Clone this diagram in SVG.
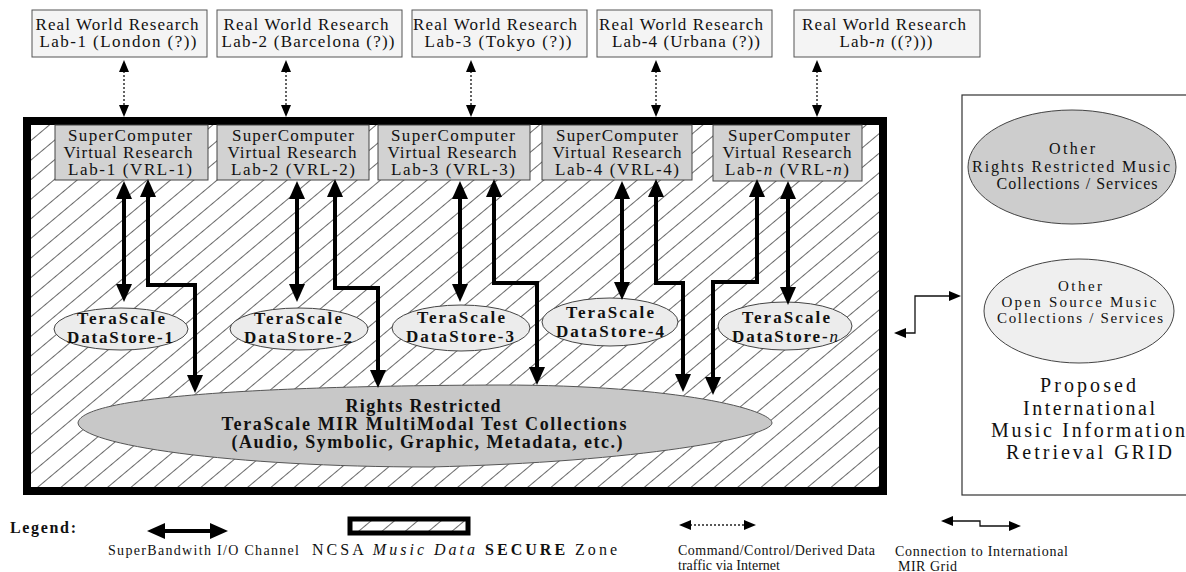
<svg xmlns="http://www.w3.org/2000/svg" width="1186" height="572" viewBox="0 0 1186 572">
<style>
text{font-family:"Liberation Serif","DejaVu Serif",serif;fill:#111;text-anchor:middle}
.rw{font-size:17px}
.vrl{font-size:17px}
.ds{font-size:17px;font-weight:bold}
.big{font-size:18px;font-weight:bold}
.oth{font-size:16px}
.oth2{font-size:15px}
.prop{font-size:20px}
.leg{font-size:14px;text-anchor:start}
.rwbox{fill:#f4f4f4;stroke:#555;stroke-width:1}
.vrlbox{fill:#d2d2d2;stroke:#444;stroke-width:1}
.dsell{fill:#ececec;stroke:#444;stroke-width:1}
.thick{fill:none;stroke:#000;stroke-width:4;marker-start:url(#bh);marker-end:url(#bh)}
.dot{fill:none;stroke:#222;stroke-width:1.4;stroke-dasharray:2 2;marker-start:url(#sh);marker-end:url(#sh)}
.thin{fill:none;stroke:#111;stroke-width:1.3;marker-start:url(#sh);marker-end:url(#sh)}
</style>
<defs>
<pattern id="hatch" patternUnits="userSpaceOnUse" width="40" height="15" patternTransform="rotate(-40)">
<rect width="40" height="15" fill="#fff"/>
<line x1="0" y1="7.5" x2="40" y2="7.5" stroke="#444" stroke-width="0.8"/>
</pattern>
<marker id="bh" viewBox="0 0 18 16" refX="1" refY="8" markerWidth="18" markerHeight="16" markerUnits="userSpaceOnUse" orient="auto-start-reverse">
<path d="M0,0 L18,8 L0,16 Z" fill="#000"/>
</marker>
<marker id="sh" viewBox="0 0 12 10" refX="1" refY="5" markerWidth="12" markerHeight="10" markerUnits="userSpaceOnUse" orient="auto-start-reverse">
<path d="M0,0 L12,5 L0,10 Z" fill="#000"/>
</marker>
</defs>
<rect width="1186" height="572" fill="#fff"/>

<g id="secure-zone">
<rect x="27" y="121" width="856" height="370" fill="url(#hatch)" stroke="#000" stroke-width="8"/>
</g>

<g id="rw1"><rect class="rwbox" x="32" y="10" width="175" height="47"/>
<text class="rw" x="117" y="30" textLength="163" lengthAdjust="spacing">Real World Research</text>
<text class="rw" x="118" y="47" textLength="157" lengthAdjust="spacing">Lab-1  (London (?))</text></g>
<g id="rw2"><rect class="rwbox" x="217" y="10" width="185" height="47"/>
<text class="rw" x="306" y="30" textLength="165" lengthAdjust="spacing">Real World Research</text>
<text class="rw" x="308" y="47" textLength="173" lengthAdjust="spacing">Lab-2  (Barcelona (?))</text></g>
<g id="rw3"><rect class="rwbox" x="412" y="10" width="175" height="47"/>
<text class="rw" x="495" y="30" textLength="164" lengthAdjust="spacing">Real World Research</text>
<text class="rw" x="498" y="47" textLength="147" lengthAdjust="spacing">Lab-3  (Tokyo (?))</text></g>
<g id="rw4"><rect class="rwbox" x="597" y="10" width="175" height="47"/>
<text class="rw" x="681" y="30" textLength="164" lengthAdjust="spacing">Real World Research</text>
<text class="rw" x="686" y="47" textLength="148" lengthAdjust="spacing">Lab-4  (Urbana (?))</text></g>
<g id="rwn"><rect class="rwbox" x="794" y="10" width="186" height="47"/>
<text class="rw" x="884" y="30" textLength="164" lengthAdjust="spacing">Real World Research</text>
<text class="rw" x="886" y="47" textLength="93" lengthAdjust="spacing">Lab-<tspan font-style="italic">n</tspan> ((?)))</text></g>

<g id="vrl1"><rect class="vrlbox" x="55" y="125" width="153" height="55"/>
<text class="vrl" x="130" y="141" textLength="124" lengthAdjust="spacing">SuperComputer</text>
<text class="vrl" x="128" y="158" textLength="129" lengthAdjust="spacing">Virtual Research</text>
<text class="vrl" x="130" y="175" textLength="124" lengthAdjust="spacing">Lab-1  (VRL-1)</text></g>
<g id="vrl2"><rect class="vrlbox" x="217" y="125" width="152" height="55"/>
<text class="vrl" x="293" y="141" textLength="122" lengthAdjust="spacing">SuperComputer</text>
<text class="vrl" x="292" y="158" textLength="129" lengthAdjust="spacing">Virtual Research</text>
<text class="vrl" x="293" y="175" textLength="124" lengthAdjust="spacing">Lab-2  (VRL-2)</text></g>
<g id="vrl3"><rect class="vrlbox" x="378" y="125" width="152" height="55"/>
<text class="vrl" x="453" y="141" textLength="124" lengthAdjust="spacing">SuperComputer</text>
<text class="vrl" x="452" y="158" textLength="129" lengthAdjust="spacing">Virtual Research</text>
<text class="vrl" x="453" y="175" textLength="124" lengthAdjust="spacing">Lab-3  (VRL-3)</text></g>
<g id="vrl4"><rect class="vrlbox" x="542" y="125" width="150" height="55"/>
<text class="vrl" x="617" y="141" textLength="122" lengthAdjust="spacing">SuperComputer</text>
<text class="vrl" x="617" y="158" textLength="129" lengthAdjust="spacing">Virtual Research</text>
<text class="vrl" x="617" y="175" textLength="124" lengthAdjust="spacing">Lab-4  (VRL-4)</text></g>
<g id="vrln"><rect class="vrlbox" x="713" y="125" width="149" height="56"/>
<text class="vrl" x="789" y="141" textLength="122" lengthAdjust="spacing">SuperComputer</text>
<text class="vrl" x="787" y="158" textLength="129" lengthAdjust="spacing">Virtual Research</text>
<text class="vrl" x="787" y="175" textLength="124" lengthAdjust="spacing">Lab-<tspan font-style="italic">n</tspan>  (VRL-<tspan font-style="italic">n</tspan>)</text></g>

<g id="ds1"><ellipse class="dsell" cx="121" cy="329" rx="67" ry="21"/>
<text class="ds" x="121" y="324" textLength="88" lengthAdjust="spacing">TeraScale</text>
<text class="ds" x="120" y="343" textLength="106" lengthAdjust="spacing">DataStore-1</text></g>
<g id="ds2"><ellipse class="dsell" cx="299" cy="329" rx="69" ry="21"/>
<text class="ds" x="298" y="324" textLength="88" lengthAdjust="spacing">TeraScale</text>
<text class="ds" x="298" y="343" textLength="108" lengthAdjust="spacing">DataStore-2</text></g>
<g id="ds3"><ellipse class="dsell" cx="461" cy="328" rx="69" ry="23"/>
<text class="ds" x="461" y="323" textLength="88" lengthAdjust="spacing">TeraScale</text>
<text class="ds" x="460" y="342" textLength="108" lengthAdjust="spacing">DataStore-3</text></g>
<g id="ds4"><ellipse class="dsell" cx="610" cy="322" rx="68" ry="24"/>
<text class="ds" x="610" y="318" textLength="88" lengthAdjust="spacing">TeraScale</text>
<text class="ds" x="610" y="337" textLength="108" lengthAdjust="spacing">DataStore-4</text></g>
<g id="dsn"><ellipse class="dsell" cx="785" cy="326" rx="67" ry="24"/>
<text class="ds" x="786" y="323" textLength="88" lengthAdjust="spacing">TeraScale</text>
<text class="ds" x="785" y="342" textLength="106" lengthAdjust="spacing">DataStore-<tspan font-style="italic" font-weight="normal">n</tspan></text></g>

<g id="collections">
<path d="M78,423 C80,400 220,386 500,385 C680,385 772,410 772,423 C772,437 640,462 430,467 C230,467 80,445 78,423 Z" fill="#c8c8c8" stroke="#555" stroke-width="1"/>
<text class="big" x="423" y="412" textLength="155" lengthAdjust="spacing">Rights Restricted</text>
<text class="big" x="424" y="430" textLength="405" lengthAdjust="spacing">TeraScale MIR MultiModal Test Collections</text>
<text class="big" x="427" y="448" textLength="391" lengthAdjust="spacing">(Audio, Symbolic, Graphic, Metadata, etc.)</text>
</g>

<g id="grid">
<rect x="962" y="95" width="240" height="400" fill="#fff" stroke="#333" stroke-width="1.2"/>
<text class="prop" x="1088" y="392" textLength="96" lengthAdjust="spacing">Proposed</text>
<text class="prop" x="1089" y="415" textLength="132" lengthAdjust="spacing">International</text>
<text class="prop" x="1088" y="437" textLength="194" lengthAdjust="spacing">Music Information</text>
<text class="prop" x="1089" y="459" textLength="166" lengthAdjust="spacing">Retrieval GRID</text>
</g>
<g id="other-restricted">
<ellipse cx="1072" cy="167" rx="104" ry="57" fill="#cdcdcd" stroke="#444" stroke-width="1"/>
<text class="oth" x="1072" y="154" textLength="46" lengthAdjust="spacing">Other</text>
<text class="oth" x="1071" y="172" textLength="198" lengthAdjust="spacing">Rights Restricted Music</text>
<text class="oth" x="1077" y="189" textLength="161" lengthAdjust="spacing">Collections / Services</text>
</g>
<g id="other-open">
<ellipse cx="1079" cy="311" rx="95" ry="52" fill="#efefef" stroke="#444" stroke-width="1"/>
<text class="oth2" x="1080" y="291" textLength="44" lengthAdjust="spacing">Other</text>
<text class="oth2" x="1079" y="307" textLength="155" lengthAdjust="spacing">Open Source Music</text>
<text class="oth2" x="1080" y="323" textLength="166" lengthAdjust="spacing">Collections / Services</text>
</g>

<g id="connectors">
<line class="dot" x1="124" y1="71" x2="124" y2="106"/>
<line class="dot" x1="286" y1="71" x2="286" y2="106"/>
<line class="dot" x1="471" y1="71" x2="471" y2="106"/>
<line class="dot" x1="656" y1="71" x2="656" y2="106"/>
<line class="dot" x1="817" y1="71" x2="817" y2="106"/>

<line class="thick" x1="124" y1="198" x2="124" y2="285"/>
<line class="thick" x1="297" y1="198" x2="297" y2="285"/>
<line class="thick" x1="460" y1="198" x2="460" y2="285"/>
<line class="thick" x1="622" y1="198" x2="622" y2="283"/>
<line class="thick" x1="788" y1="198" x2="788" y2="288"/>

<path class="thick" d="M148,196 L148,285 L195,285 L195,376"/>
<path class="thick" d="M335,196 L335,288 L378,288 L378,371"/>
<path class="thick" d="M494,196 L494,283 L537,283 L537,368"/>
<path class="thick" d="M656,196 L656,283 L683,283 L683,375"/>
<path class="thick" d="M757,196 L757,282 L713,282 L713,378"/>

<path class="thin" d="M905,333 L915,333 L915,296 L950,296"/>
</g>

<g id="legend">
<text x="10" y="533" style="font-size:16px;font-weight:bold;text-anchor:start" textLength="66" lengthAdjust="spacing">Legend:</text>
<line class="thick" x1="164" y1="531" x2="211" y2="531"/>
<text class="leg" x="108" y="555" textLength="191" lengthAdjust="spacing">SuperBandwith I/O Channel</text>
<rect x="350" y="519" width="118" height="14" fill="url(#hatch)" stroke="#000" stroke-width="5"/>
<text class="leg" x="312" y="555" style="font-size:16px" textLength="305" lengthAdjust="spacing">NCSA <tspan font-style="italic">Music Data</tspan> <tspan font-weight="bold">SECURE</tspan> Zone</text>
<line class="dot" x1="690" y1="525" x2="745" y2="525"/>
<text class="leg" x="678" y="555" textLength="197" lengthAdjust="spacing">Command/Control/Derived Data</text>
<text class="leg" x="678" y="570" textLength="102" lengthAdjust="spacing">traffic via Internet</text>
<path class="thin" d="M952,521 L980,521 L980,526 L1010,526"/>
<text class="leg" x="895" y="556" textLength="173" lengthAdjust="spacing">Connection to International</text>
<text class="leg" x="898" y="571" textLength="59" lengthAdjust="spacing">MIR Grid</text>
</g>
</svg>
